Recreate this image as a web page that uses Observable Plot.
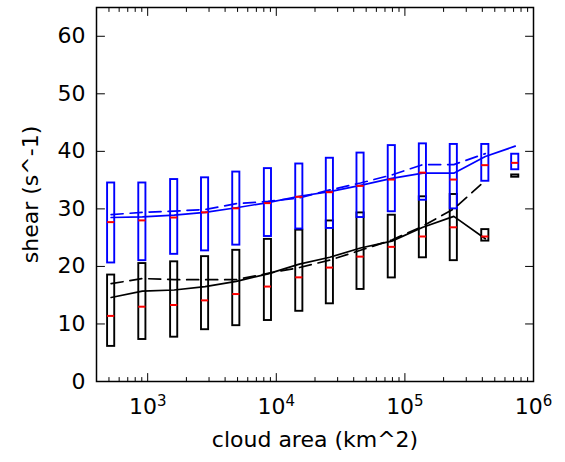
<!DOCTYPE html>
<html>
<head>
<meta charset="utf-8">
<script src="https://cdn.jsdelivr.net/npm/d3@7"></script>
<script src="https://cdn.jsdelivr.net/npm/@observablehq/plot@0.6"></script>
<style>
  body { margin: 0; background: #fff; }
</style>
</head>
<body>
<div id="chart"></div>
<script>
// bin centres (cloud area, km^2)
const area = [520, 909, 1607, 2794, 4887, 8610, 15100, 26100, 45200, 79100, 138000, 240000, 422000, 721000];

// blue series
const blueHigh   = [34.5, 34.5, 35.1, 35.4, 36.4, 37.0, 37.8, 38.8, 39.7, 41.0, 41.3, 41.2, 41.2, 39.5];
const blueLow    = [20.6, 21.0, 22.1, 22.7, 23.7, 25.2, 26.5, 26.6, 28.5, 29.5, 31.5, 30.0, 34.8, 36.8];
const blueMedian = [27.7, 28.0, 28.5, 29.4, 30.1, 31.0, 32.1, 32.9, 34.0, 35.1, 36.3, 35.1, 37.6, 38.0];
const blueSolid  = [28.5, 28.6, 28.9, 29.4, 30.2, 31.1, 32.2, 33.0, 34.1, 35.3, 36.2, 36.2, 39.1, 40.9];
const blueDashed = [29.0, 29.4, 29.6, 29.9, 30.9, 31.3, 31.9, 33.3, 34.5, 35.9, 37.7, 37.7, 39.6, null];

// black series
const blackHigh   = [18.5, 20.5, 20.8, 21.7, 22.8, 24.7, 26.3, 27.9, 29.3, 28.9, 32.1, 32.5, 26.4, 35.9];
const blackLow    = [6.1, 7.3, 7.7, 9.0, 9.7, 10.6, 12.2, 13.5, 16.0, 18.0, 21.5, 21.0, 24.4, 35.5];
const blackMedian = [11.4, 13.0, 13.3, 14.1, 15.2, 16.5, 18.1, 19.8, 21.7, 23.4, 25.2, 26.8, 25.2, null];
const blackSolid  = [14.6, 15.7, 15.9, 16.5, 17.4, 18.7, 20.4, 21.6, 23.2, 24.4, 26.8, 28.7, 24.8, null];
const blackDashed = [17.0, 17.9, 17.7, 17.7, 17.7, 18.8, 19.8, 21.1, 22.8, 24.6, 27.0, 30.0, 34.9, null];

// ticks
const xMajorTicks = [1e3, 1e4, 1e5, 1e6];
const xTickExponents = ["3", "4", "5", "6"];
const yTicks = [0, 10, 20, 30, 40, 50, 60];
const xDomain = [400, 1e6];
const yDomain = [0, 65];

const xMinorTicks = [];
for (let e = 2; e <= 5; e++) for (let m = 2; m <= 9; m++) {
  const v = m * Math.pow(10, e);
  if (v >= xDomain[0] && v <= xDomain[1]) xMinorTicks.push(v);
}

const HW = 1.066; // half box width factor in log space
const boxRows = (hi, lo) => area.map((x, i) => ({x, lo: lo[i], hi: hi[i]})).filter(d => d.lo != null && d.hi != null);
const ptRows = (vals) => area.map((x, i) => ({x, y: vals[i]})).filter(d => d.y != null);

const tickFmt = d => "10^" + xTickExponents[xMajorTicks.indexOf(d)];

// straight tick shape for vector marks
const tickShape = {draw(context, l) { context.moveTo(0, 0); context.lineTo(0, -l); }};
const tickMark = (values, horizontal, atValue, rotate, len) =>
  Plot.vector(values, horizontal
    ? {x: d => d, y: () => atValue, rotate, length: len, anchor: "start", shape: tickShape, stroke: "black", strokeWidth: 1}
    : {y: d => d, x: () => atValue, rotate, length: len, anchor: "start", shape: tickShape, stroke: "black", strokeWidth: 1});

const chart = Plot.plot({
  width: 565,
  height: 462,
  marginLeft: 96,
  marginRight: 32,
  marginTop: 7,
  marginBottom: 81,
  style: {fontFamily: "DejaVu Sans", fontSize: "22px", color: "black", background: "white"},
  x: {type: "log", domain: xDomain},
  y: {domain: yDomain},
  marks: [
    // black boxes
    Plot.rect(boxRows(blackHigh, blackLow), {x1: d => d.x / HW, x2: d => d.x * HW, y1: "lo", y2: "hi", fill: "none", stroke: "black", strokeWidth: 1.9}),
    // blue boxes
    Plot.rect(boxRows(blueHigh, blueLow), {x1: d => d.x / HW, x2: d => d.x * HW, y1: "lo", y2: "hi", fill: "none", stroke: "#0000ff", strokeWidth: 1.9}),
    // lines
    Plot.line(ptRows(blackSolid), {x: "x", y: "y", stroke: "black", strokeWidth: 1.7}),
    Plot.line(ptRows(blackDashed), {x: "x", y: "y", stroke: "black", strokeWidth: 1.7, strokeDasharray: "12,7"}),
    Plot.line(ptRows(blueSolid), {x: "x", y: "y", stroke: "#0000ff", strokeWidth: 1.7}),
    Plot.line(ptRows(blueDashed), {x: "x", y: "y", stroke: "#0000ff", strokeWidth: 1.7, strokeDasharray: "12,7"}),
    // medians
    Plot.ruleY(ptRows(blackMedian), {y: "y", x1: d => d.x / HW, x2: d => d.x * HW, stroke: "red", strokeWidth: 2}),
    Plot.ruleY(ptRows(blueMedian), {y: "y", x1: d => d.x / HW, x2: d => d.x * HW, stroke: "red", strokeWidth: 2}),
    // inward ticks
    tickMark(xMajorTicks, true, yDomain[0], 0, 8),
    tickMark(xMajorTicks, true, yDomain[1], 180, 8),
    tickMark(xMinorTicks, true, yDomain[0], 0, 4),
    tickMark(xMinorTicks, true, yDomain[1], 180, 4),
    tickMark(yTicks, false, xDomain[0], 90, 8),
    tickMark(yTicks, false, xDomain[1], -90, 8),
    // frame
    Plot.frame({stroke: "black", strokeWidth: 1.5}),
    // axis labels
    Plot.axisX(xMajorTicks, {anchor: "bottom", tickSize: 0, tickPadding: 17, tickFormat: tickFmt,
      label: "cloud area (km^2)", labelAnchor: "center", labelArrow: "none", labelOffset: 65}),
    Plot.axisY(yTicks, {anchor: "left", tickSize: 0, tickPadding: 11,
      label: "shear (s^-1)", labelAnchor: "center", labelArrow: "none", labelOffset: 74})
  ]
});

// render "10^n" tick labels as base with a raised exponent
d3.select(chart).selectAll("text").each(function() {
  const t = this.textContent;
  const m = /^10\^(\d)$/.exec(t);
  if (!m) return;
  const el = d3.select(this);
  el.text("");
  el.append("tspan").text("10");
  el.append("tspan").attr("font-size", "15px").attr("dy", "-0.55em").text(m[1]);
});

document.getElementById("chart").appendChild(chart);
</script>
</body>
</html>
